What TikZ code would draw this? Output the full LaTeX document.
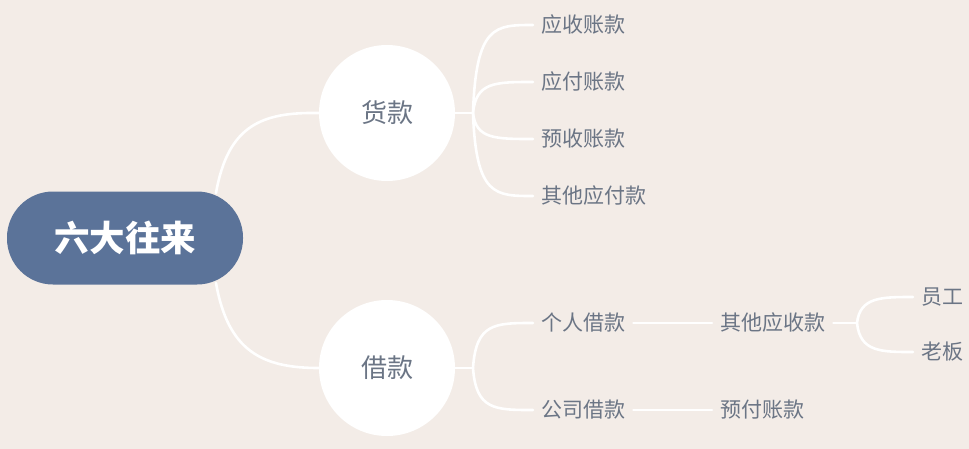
\documentclass[tikz,border=0pt]{standalone}
\usepackage{fontspec}
\newfontfamily\cjk{Noto Sans CJK SC}
\usetikzlibrary{calc}
\definecolor{bgc}{HTML}{F3ECE7}
\definecolor{rootc}{HTML}{5B7399}
\definecolor{txtc}{HTML}{6B7585}
\tikzset{
  x=1pt,y=-1pt,
  link/.style={draw=white,line width=2.6pt,line cap=round},
  rootbox/.style={fill=rootc,rounded corners=46pt,minimum width=236pt,minimum height=93pt,inner sep=0pt,text=white,font=\cjk\bfseries\fontsize{35.5}{40}\selectfont},
  bubble/.style={circle,fill=white,minimum size=136pt,inner sep=0pt,text=txtc,font=\cjk\fontsize{26}{30}\selectfont},
  leaf/.style={anchor=west,inner xsep=8pt,inner ysep=2pt,text=txtc,font=\cjk\fontsize{21}{24}\selectfont},
}
\begin{document}
\begin{tikzpicture}
\useasboundingbox (0,0) rectangle (969,448);
\fill[bgc] (-3,-3) rectangle (972,451);
% nodes
\node[rootbox] (root) at (125,238) {六大往来};
\node[bubble] (huo) at (387,113) {货款};
\node[bubble] (jie) at (387,368) {借款};
\node[leaf] (l1) at (533,25) {应收账款};
\node[leaf] (l2) at (533,82) {应付账款};
\node[leaf] (l3) at (533,139) {预收账款};
\node[leaf] (l4) at (533,196) {其他应付款};
\node[leaf] (p1) at (533,323) {个人借款};
\node[leaf] (p2) at (533,410) {公司借款};
\node[leaf] (q1) at (712,323) {其他应收款};
\node[leaf] (q2) at (712,410) {预付账款};
\node[leaf] (e1) at (913,297) {员工};
\node[leaf] (e2) at (913,352) {老板};
\coordinate (r1) at (216,193);
\coordinate (r2) at (216,283);
\coordinate (jh) at (473,113);
\coordinate (jj) at (473,368);
\coordinate (jq) at (857,323);
% root connectors
\draw[link] (r1) .. controls (228,125) and (262,112) .. (huo.west);
\draw[link] (r2) .. controls (228,351) and (262,368) .. (jie.west);
% huo branches
\draw[link] (huo.east) -- (jh);
\foreach \t in {l1,l2,l3,l4}{
  \draw[link] (jh) .. controls ($(jh |- \t.west)+(3,0)$) and ($(\t.west)+(-38,0)$) .. (\t.west);
}
% jie branches
\draw[link] (jie.east) -- (jj);
\foreach \t in {p1,p2}{
  \draw[link] (jj) .. controls ($(jj |- \t.west)+(3,0)$) and ($(\t.west)+(-38,0)$) .. (\t.west);
}
\draw[link] (p1.east) -- (q1.west);
\draw[link] (p2.east) -- (q2.west);
\draw[link] (q1.east) -- (jq);
\foreach \t in {e1,e2}{
  \draw[link] (jq) .. controls ($(jq |- \t.west)+(3,0)$) and ($(\t.west)+(-32,0)$) .. (\t.west);
}
\end{tikzpicture}
\end{document}
